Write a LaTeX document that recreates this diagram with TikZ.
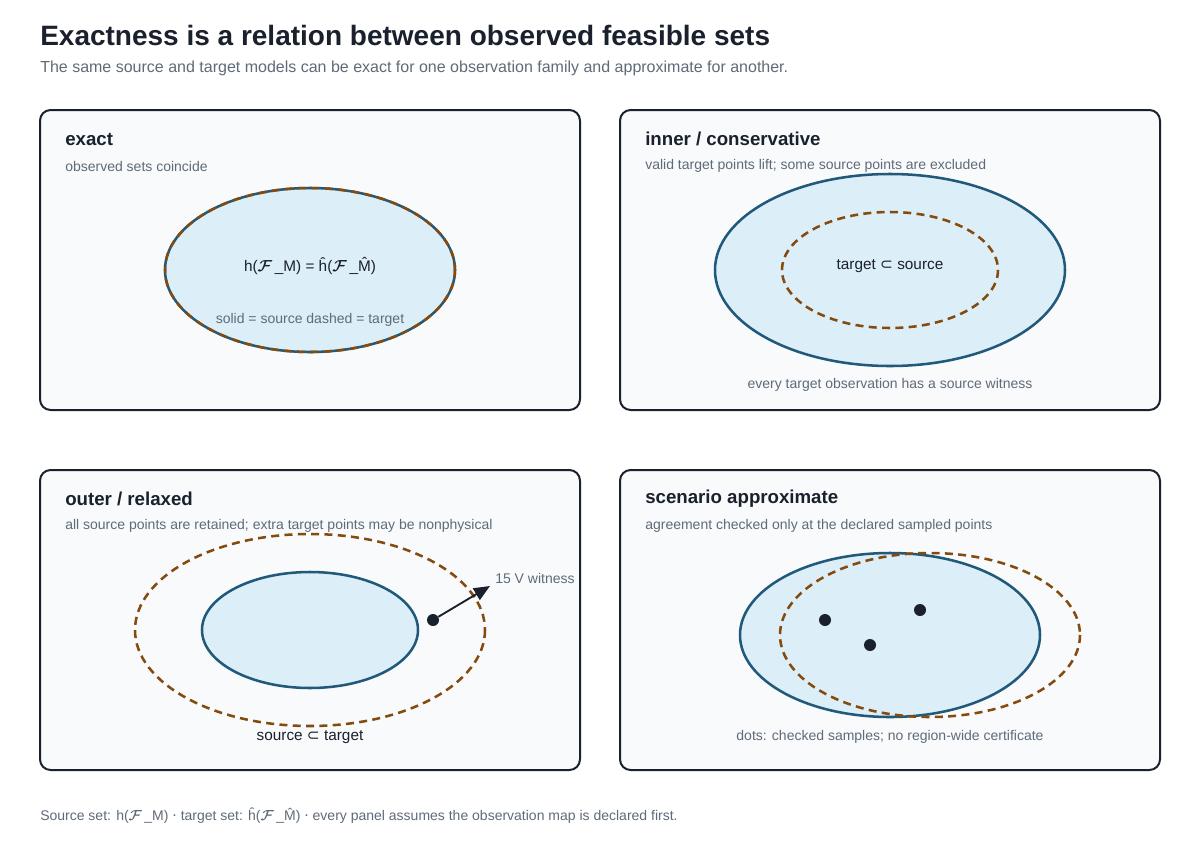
\documentclass[tikz,border=0pt]{standalone}
\usepackage{bm}
\usepackage{fontspec}
\setmainfont{Liberation Sans}
\newfontfamily\symf{DejaVu Sans}
\usetikzlibrary{arrows.meta}
\definecolor{ink}{HTML}{1A202C}
\definecolor{muted}{HTML}{5F6B78}
\definecolor{panelfill}{HTML}{F8FAFC}
\definecolor{srcblue}{HTML}{21597A}
\definecolor{srcfill}{HTML}{DCEEF8}
\definecolor{tgtbrown}{HTML}{854A0E}
\newcommand{\scrF}{$\bm{\mathcal{F}}$}
\tikzset{
  panel/.style={draw=ink, line width=1.5pt, fill=panelfill, rounded corners=8pt},
  ptitle/.style={anchor=west, font=\fontsize{14}{16}\selectfont\bfseries, text=ink, inner sep=0},
  psub/.style={anchor=west, font=\fontsize{10.5}{12}\selectfont, text=muted, inner sep=0},
  note/.style={font=\fontsize{10.5}{12}\selectfont, text=muted, inner sep=0},
  lbl/.style={font=\fontsize{11.5}{13}\selectfont, text=ink, inner sep=0},
  srcset/.style={draw=srcblue, line width=1.9pt, fill=srcfill},
  srcline/.style={draw=srcblue, line width=1.9pt},
  tgtset/.style={draw=tgtbrown, line width=1.9pt, dash pattern=on 6pt off 4pt},
  dotpt/.style={circle, fill=ink, inner sep=0, minimum size=9pt},
}
\begin{document}
\begin{tikzpicture}[x=0.75pt,y=-0.75pt]
\useasboundingbox (0,0) rectangle (1200,850);
\fill[white] (0,0) rectangle (1200,850);
% title
\node[anchor=west, inner sep=0, font=\fontsize{21}{24}\selectfont\bfseries, text=ink] (title) at (40,35) {Exactness is a relation between observed feasible sets};
\node[anchor=west, inner sep=0, font=\fontsize{12}{14}\selectfont, text=muted] (subtitle) at (40,68) {The same source and target models can be exact for one observation family and approximate for another.};

% panels
\draw[panel] (40,110) rectangle (580,410);
\draw[panel] (620,110) rectangle (1160,410);
\draw[panel] (40,470) rectangle (580,770);
\draw[panel] (620,470) rectangle (1160,770);

% exact
\node[ptitle] (t1) at (65,139) {exact};
\node[psub] (s1) at (65,166) {observed sets coincide};
\draw[srcset] (310,270) ellipse [x radius=145, y radius=82];
\draw[tgtset] (310,270) ellipse [x radius=145, y radius=82];
\node[lbl] (f1) at (310,266) {h(\scrF\,\_M) = ĥ(\scrF\,\_\^{M})};
\node[note] (n1) at (310,320) {solid = source dashed = target};

% inner
\node[ptitle] (t2) at (645,139) {inner / conservative};
\node[psub] (s2) at (645,166) {valid target points lift; some source points are excluded};
\draw[srcset] (890,270) ellipse [x radius=175, y radius=96];
\draw[tgtset] (890,270) ellipse [x radius=108, y radius=58];
\node[lbl] (l2) at (890,266) {target {\symf ⊂} source};
\node[note] (n2) at (890,385) {every target observation has a source witness};

% outer
\node[ptitle] (t3) at (65,499) {outer / relaxed};
\node[psub] (s3) at (65,526) {all source points are retained; extra target points may be nonphysical};
\draw[tgtset] (310,630) ellipse [x radius=175, y radius=96];
\draw[srcset] (310,630) ellipse [x radius=108, y radius=58];
\node[dotpt] (w) at (433,620) {};
\coordinate (wtip) at (490,586);
\draw[ink, line width=1.4pt, -{Triangle[length=12pt, width=10pt]}] (w) -- (wtip);
\node[note, anchor=west] (wl) at (495,578) {15 V witness};
\node[lbl] (l3) at (310,737) {source {\symf ⊂} target};

% scenario
\node[ptitle] (t4) at (645,499) {scenario approximate};
\node[psub] (s4) at (645,526) {agreement checked only at the declared sampled points};
\draw[srcset] (890,635) ellipse [x radius=150, y radius=82];
\draw[tgtset] (930,635) ellipse [x radius=150, y radius=82];
\node[dotpt] (d1) at (825,620) {};
\node[dotpt] (d2) at (920,610) {};
\node[dotpt] (d3) at (870,645) {};
\node[note] (n4) at (890,737) {dots: checked samples; no region-wide certificate};

% footer
\node[note, anchor=west] (foot) at (40,816) {Source set: h(\scrF\,\_M) {\symf ·} target set: ĥ(\scrF\,\_\^{M}) {\symf ·} every panel assumes the observation map is declared first.};
\end{tikzpicture}
\end{document}
